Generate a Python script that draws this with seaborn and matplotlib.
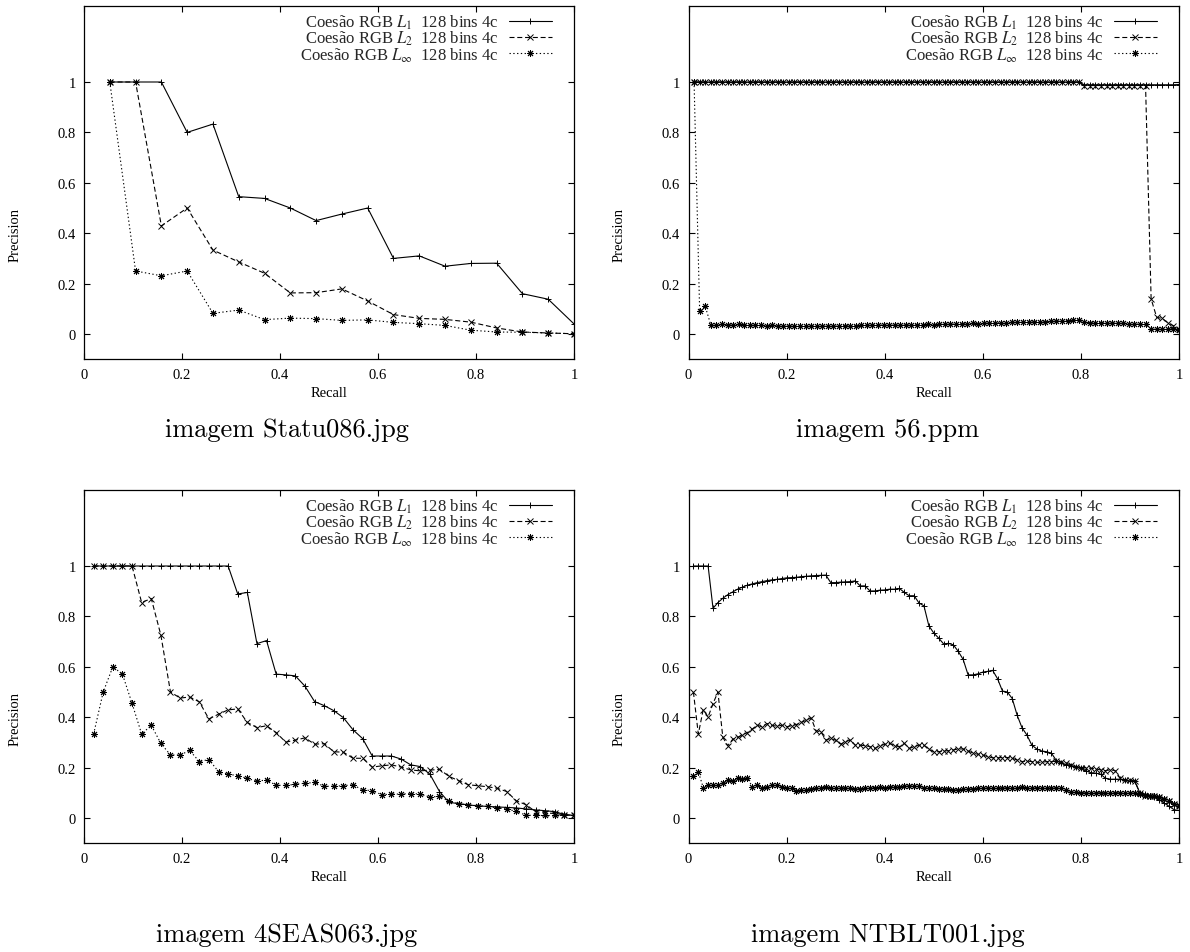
import numpy as np
import pandas as pd
import matplotlib
matplotlib.use("Agg")
import matplotlib.pyplot as plt
import seaborn as sns

# ---------------------------------------------------------------------------
# Precision / recall curves (relevant images per query: 19, 88, 51, 100)
# ---------------------------------------------------------------------------
titles = ["imagem Statu086.jpg", "imagem 56.ppm",
          "imagem 4SEAS063.jpg", "imagem NTBLT001.jpg"]
n_relevant = [19, 88, 51, 100]
series_labels = [
    "Coesão RGB $L_1$  128 bins 4c",
    "Coesão RGB $L_2$  128 bins 4c",
    "Coesão RGB $L_\\infty$  128 bins 4c",
]

# --- Statu086.jpg -----------------------------------------------------------
statu_l1 = [1.0, 1.0, 1.0, 0.8, 0.833, 0.545, 0.538, 0.5, 0.45, 0.476,
            0.5, 0.3, 0.31, 0.269, 0.28, 0.281, 0.16, 0.138, 0.04]
statu_l2 = [1.0, 1.0, 0.429, 0.5, 0.333, 0.286, 0.241, 0.163, 0.164, 0.179,
            0.131, 0.077, 0.062, 0.058, 0.047, 0.024, 0.008, 0.004, 0.001]
statu_linf = [1.0, 0.25, 0.231, 0.25, 0.082, 0.095, 0.057, 0.063, 0.061, 0.054,
              0.056, 0.046, 0.041, 0.034, 0.015, 0.008, 0.007, 0.004, 0.001]

# --- 56.ppm -----------------------------------------------------------------
ppm_l1 = [1.0, 1.0, 1.0, 1.0, 1.0, 1.0, 1.0, 1.0, 1.0, 1.0,
          1.0, 1.0, 1.0, 1.0, 1.0, 1.0, 1.0, 1.0, 1.0, 1.0,
          1.0, 1.0, 1.0, 1.0, 1.0, 1.0, 1.0, 1.0, 1.0, 1.0,
          1.0, 1.0, 1.0, 1.0, 1.0, 1.0, 1.0, 1.0, 1.0, 1.0,
          1.0, 1.0, 1.0, 1.0, 1.0, 1.0, 1.0, 1.0, 1.0, 1.0,
          1.0, 1.0, 1.0, 1.0, 1.0, 1.0, 1.0, 1.0, 1.0, 1.0,
          1.0, 1.0, 1.0, 1.0, 1.0, 1.0, 1.0, 1.0, 1.0, 1.0,
          0.989, 0.989, 0.989, 0.989, 0.989, 0.989, 0.989, 0.989, 0.989, 0.989,
          0.989, 0.989, 0.989, 0.989, 0.989, 0.989, 0.989, 0.99]
ppm_l2 = [1.0, 1.0, 1.0, 1.0, 1.0, 1.0, 1.0, 1.0, 1.0, 1.0,
          1.0, 1.0, 1.0, 1.0, 1.0, 1.0, 1.0, 1.0, 1.0, 1.0,
          1.0, 1.0, 1.0, 1.0, 1.0, 1.0, 1.0, 1.0, 1.0, 1.0,
          1.0, 1.0, 1.0, 1.0, 1.0, 1.0, 1.0, 1.0, 1.0, 1.0,
          1.0, 1.0, 1.0, 1.0, 1.0, 1.0, 1.0, 1.0, 1.0, 1.0,
          1.0, 1.0, 1.0, 1.0, 1.0, 1.0, 1.0, 1.0, 1.0, 1.0,
          1.0, 1.0, 1.0, 1.0, 1.0, 1.0, 1.0, 1.0, 1.0, 1.0,
          0.986, 0.986, 0.986, 0.986, 0.986, 0.986, 0.986, 0.986, 0.986, 0.986,
          0.986, 0.986, 0.139, 0.066, 0.062, 0.044, 0.033, 0.02]
ppm_linf = [1.0, 0.09, 0.11,
            0.036, 0.034, 0.038, 0.037, 0.035, 0.038, 0.036,
            0.035, 0.034, 0.036, 0.033, 0.034, 0.032, 0.033, 0.031, 0.032, 0.030,
            0.030, 0.031, 0.030, 0.031, 0.032, 0.031, 0.032, 0.033, 0.032, 0.033,
            0.034, 0.035, 0.034, 0.035, 0.036, 0.035, 0.036, 0.035, 0.036, 0.037,
            0.036, 0.037, 0.038, 0.037, 0.038, 0.039, 0.040, 0.039, 0.040, 0.041,
            0.042, 0.041, 0.042, 0.043, 0.044, 0.045, 0.044, 0.046, 0.047, 0.046,
            0.047, 0.048, 0.049, 0.048, 0.050, 0.051, 0.052, 0.053, 0.054, 0.056,
            0.046, 0.045, 0.044, 0.045, 0.043, 0.044, 0.042, 0.043, 0.041, 0.040,
            0.039, 0.038, 0.020, 0.019, 0.019, 0.018, 0.018, 0.017]

# --- 4SEAS063.jpg -----------------------------------------------------------
seas_l1 = [1.0, 1.0, 1.0, 1.0, 1.0, 1.0, 1.0, 1.0, 1.0, 1.0,
           1.0, 1.0, 1.0, 1.0, 1.0,
           0.889, 0.895, 0.692, 0.704, 0.571, 0.568, 0.564, 0.523, 0.462, 0.446,
           0.426, 0.398, 0.35, 0.315, 0.246, 0.246, 0.246, 0.234, 0.211, 0.204,
           0.174, 0.105, 0.062, 0.057, 0.052, 0.048, 0.046, 0.044, 0.042, 0.04,
           0.036, 0.032, 0.029, 0.025, 0.014, 0.01]
seas_l2 = [1.0, 1.0, 1.0, 1.0, 1.0,
           0.855, 0.871, 0.726, 0.5, 0.476, 0.48, 0.461, 0.393, 0.412, 0.429,
           0.433, 0.379, 0.359, 0.366, 0.339, 0.301, 0.309, 0.318, 0.293, 0.295,
           0.263, 0.261, 0.237, 0.237, 0.202, 0.207, 0.211, 0.202, 0.191, 0.187,
           0.19, 0.193, 0.165, 0.148, 0.132, 0.128, 0.124, 0.118, 0.105, 0.068,
           0.053, 0.025, 0.02, 0.018, 0.013, 0.01]
seas_linf = [0.333, 0.5, 0.6, 0.571, 0.455, 0.333, 0.368, 0.296, 0.25, 0.25,
             0.268, 0.224, 0.232, 0.184, 0.174, 0.168, 0.157, 0.146, 0.151, 0.13,
             0.129, 0.134, 0.138, 0.141, 0.126, 0.126, 0.128, 0.132, 0.111, 0.109,
             0.092, 0.095, 0.095, 0.097, 0.095, 0.083, 0.086, 0.066, 0.057, 0.051,
             0.049, 0.046, 0.04, 0.036, 0.026, 0.011, 0.01, 0.01, 0.01, 0.01,
             0.01]

# --- NTBLT001.jpg -----------------------------------------------------------
ntb_l1 = [1.0, 1.0, 1.0, 1.0,
          0.832, 0.855, 0.872, 0.886, 0.897, 0.908, 0.916, 0.924, 0.929, 0.934,
          0.938, 0.942, 0.945, 0.947, 0.95, 0.953, 0.954, 0.955, 0.958, 0.959,
          0.961, 0.962, 0.963, 0.964,
          0.934, 0.934, 0.936, 0.937, 0.938,
          0.941, 0.921, 0.921, 0.901, 0.901, 0.904, 0.905, 0.908, 0.908, 0.911,
          0.895, 0.882, 0.882, 0.853, 0.842, 0.763, 0.734, 0.714, 0.691, 0.693,
          0.687, 0.661, 0.629, 0.568, 0.568, 0.572, 0.579, 0.582, 0.586, 0.553,
          0.504, 0.5, 0.474, 0.408, 0.358,
          0.329, 0.289, 0.274, 0.266, 0.263, 0.257, 0.228, 0.217, 0.211, 0.208,
          0.204, 0.2, 0.187, 0.18, 0.178, 0.174, 0.158, 0.154, 0.154, 0.154,
          0.151, 0.147, 0.145, 0.101, 0.095, 0.089, 0.082, 0.072, 0.059, 0.046,
          0.033, 0.03]
ntb_l2 = [0.5, 0.333, 0.43, 0.401, 0.454, 0.5, 0.32, 0.287, 0.312, 0.32,
          0.329, 0.339, 0.353, 0.368, 0.362, 0.375, 0.368, 0.364, 0.368, 0.362,
          0.366, 0.371, 0.379, 0.388, 0.397, 0.346, 0.342, 0.309, 0.316, 0.309,
          0.293, 0.303, 0.309, 0.289,
          0.289, 0.287, 0.283, 0.276, 0.287, 0.292, 0.296, 0.287, 0.283, 0.296,
          0.276, 0.283, 0.289, 0.289, 0.272, 0.263, 0.263, 0.266, 0.267, 0.27,
          0.274, 0.274, 0.266, 0.257, 0.253, 0.25, 0.243, 0.239, 0.239, 0.24,
          0.24, 0.237, 0.23, 0.224,
          0.226, 0.224, 0.221, 0.221, 0.224, 0.224, 0.226, 0.221, 0.217, 0.211,
          0.204, 0.2, 0.2, 0.197, 0.195, 0.191, 0.188, 0.191, 0.188, 0.158,
          0.151, 0.151, 0.147, 0.099, 0.089, 0.088, 0.086, 0.082, 0.076, 0.068,
          0.055, 0.05]
ntb_linf = [0.168, 0.184, 0.121, 0.129, 0.129, 0.129, 0.138, 0.151, 0.147, 0.158,
            0.155, 0.158, 0.125, 0.132, 0.118, 0.125, 0.132, 0.129, 0.125, 0.118,
            0.118, 0.108, 0.112, 0.112, 0.116, 0.118, 0.121, 0.125, 0.118, 0.118,
            0.118, 0.118, 0.118, 0.116,
            0.117, 0.118, 0.12, 0.121, 0.122, 0.121, 0.123, 0.124, 0.125, 0.126,
            0.127, 0.128, 0.126, 0.121, 0.12, 0.118, 0.117, 0.116, 0.115, 0.113,
            0.112, 0.114, 0.116, 0.117, 0.118, 0.118, 0.119, 0.118, 0.119, 0.12,
            0.12, 0.121, 0.121, 0.122,
            0.121, 0.121, 0.12, 0.12, 0.12, 0.12, 0.119, 0.118, 0.11, 0.105,
            0.102, 0.101, 0.101, 0.101, 0.101, 0.101, 0.101, 0.101, 0.101, 0.101,
            0.1, 0.1, 0.099, 0.095, 0.092, 0.089, 0.086, 0.082, 0.076, 0.066,
            0.056, 0.046]

panel_series = [
    (statu_l1, statu_l2, statu_linf),
    (ppm_l1, ppm_l2, ppm_linf),
    (seas_l1, seas_l2, seas_linf),
    (ntb_l1, ntb_l2, ntb_linf),
]

tick_values = [0, 0.2, 0.4, 0.6, 0.8, 1]
tick_labels = ["0", "0.2", "0.4", "0.6", "0.8", "1"]

# ---------------------------------------------------------------------------
sns.set_theme(style="ticks")
plt.rcParams["font.family"] = ["Liberation Serif", "DejaVu Serif"]
plt.rcParams["mathtext.fontset"] = "stix"

line_styles = ["-", (0, (4.5, 2.5)), (0, (1.2, 2.2))]
markers = ["+", "x", (8, 2, 0)]
marker_sizes = [5.0, 4.2, 5.0]

fig = plt.figure(figsize=(11.9, 9.53), dpi=100)

# axes rectangles in figure fractions
W, H = 1190.0, 953.0
boxes = [
    (84, 7.4, 574, 360.2),
    (688.5, 7.4, 1179, 360.2),
    (84, 491.4, 574, 844.2),
    (688.5, 491.4, 1179, 844.2),
]
title_pos = [(287, 430), (888, 430), (287, 935), (888, 935)]

for idx in range(4):
    x0, y0, x1, y1 = boxes[idx]
    ax = fig.add_axes([x0 / W, 1 - y1 / H, (x1 - x0) / W, (y1 - y0) / H])
    n = n_relevant[idx]
    recall = np.arange(1, n + 1) / n
    for s, vals in enumerate(panel_series[idx]):
        df = pd.DataFrame({"Recall": recall, "Precision": vals})
        sns.lineplot(data=df, x="Recall", y="Precision", ax=ax,
                     estimator=None, sort=False, color="black",
                     linewidth=0.8, linestyle=line_styles[s],
                     marker=markers[s], markersize=marker_sizes[s],
                     markeredgewidth=0.7, markeredgecolor="black",
                     markerfacecolor="black", label=series_labels[s])

    ax.set_xlim(0, 1)
    ax.set_ylim(-0.1, 1.3)
    ax.set_xticks(tick_values)
    ax.set_xticklabels(tick_labels)
    ax.set_yticks(tick_values)
    ax.set_yticklabels(tick_labels)
    ax.tick_params(direction="in", top=True, right=True, length=4,
                   width=0.8, labelsize=10.5, pad=6, colors="black")
    for sp in ax.spines.values():
        sp.set_linewidth(0.9)
        sp.set_color("black")
    ax.set_xlabel("Recall", fontsize=10.5, color="black")
    ax.set_ylabel("Precision", fontsize=10.5, color="black")
    ax.yaxis.set_label_coords(-0.128, 0.355)

    ax.legend(loc="upper right", frameon=False, markerfirst=False,
              fontsize=12, handlelength=2.6, handletextpad=0.6,
              labelspacing=-0.12, borderpad=0, borderaxespad=0,
              numpoints=1,
              bbox_to_anchor=(1 - 22 / 490, 1 - 6 / 352.8))

    tx, ty = title_pos[idx]
    fig.text(tx / W, 1 - ty / H, titles[idx], family="cmr10", size=19,
             ha="center", va="center", color="black")

fig.savefig("out.png", dpi=100)
